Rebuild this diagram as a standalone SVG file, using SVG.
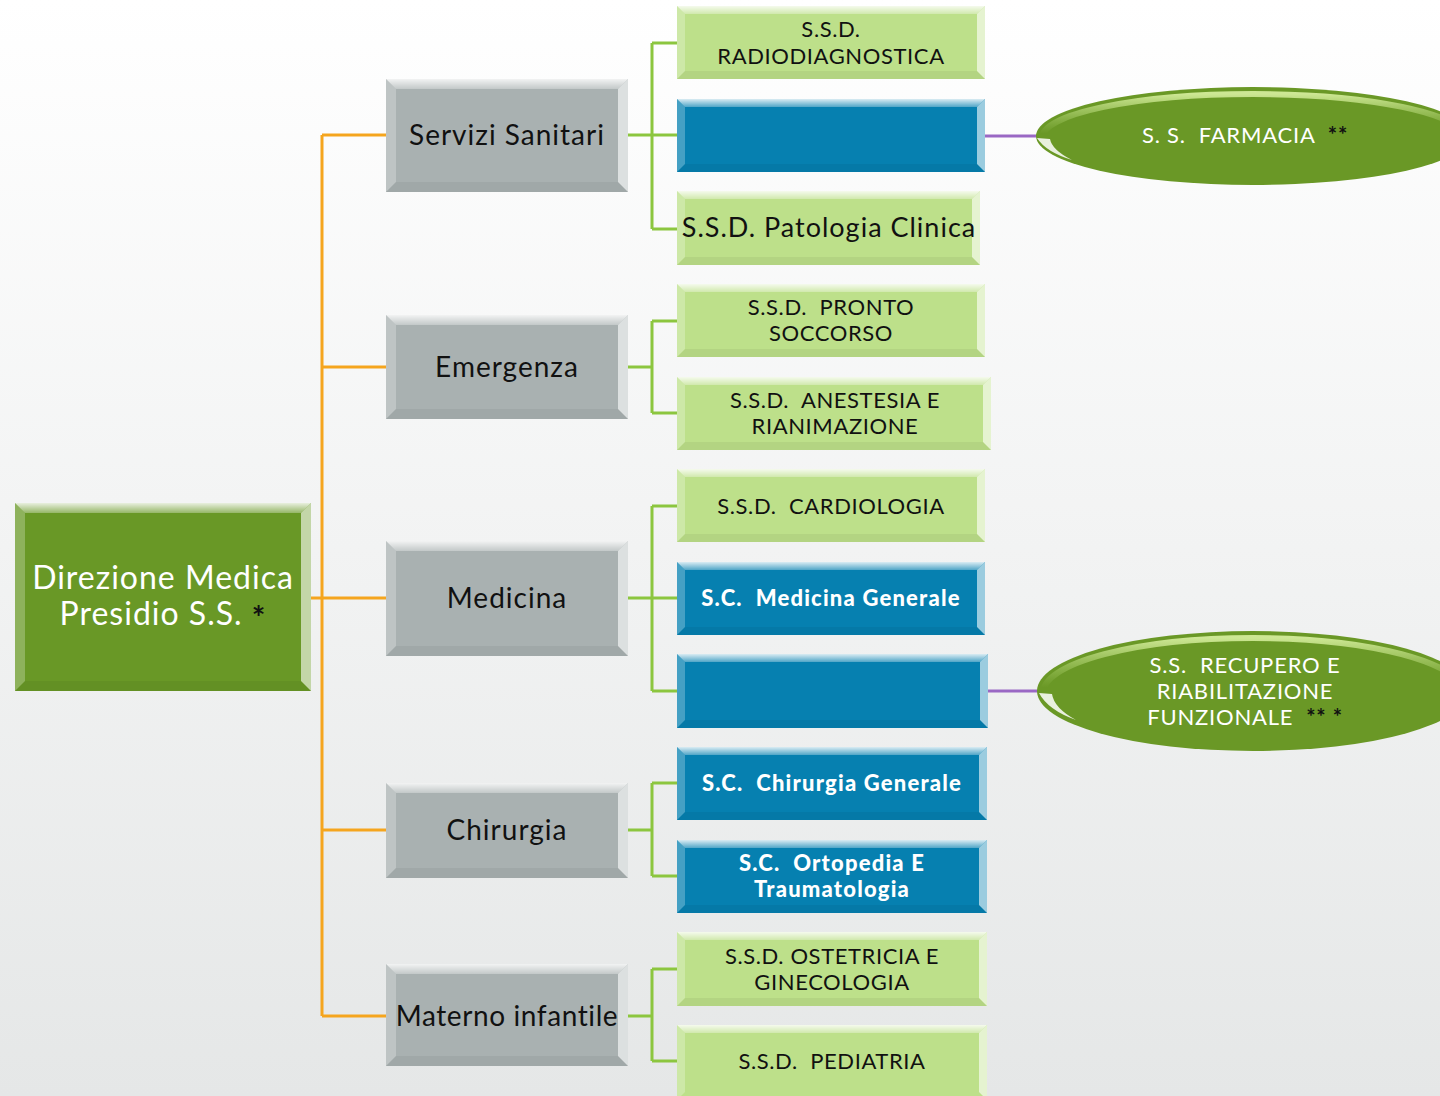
<svg xmlns="http://www.w3.org/2000/svg" width="1440" height="1096" viewBox="0 0 1440 1096">
<defs>
<linearGradient id="bg" x1="0" y1="0" x2="0" y2="1"><stop offset="0" stop-color="#ffffff"/><stop offset="1" stop-color="#e5e7e7"/></linearGradient>
<linearGradient id="topHi" x1="0" y1="0" x2="0" y2="1"><stop offset="0" stop-color="#ffffff" stop-opacity="0.85"/><stop offset="1" stop-color="#ffffff" stop-opacity="0.3"/></linearGradient>
<linearGradient id="ellHi" x1="0" y1="0" x2="0" y2="1"><stop offset="0" stop-color="#d8f0a0" stop-opacity="0.9"/><stop offset="0.45" stop-color="#b8dc78" stop-opacity="0"/></linearGradient>
</defs>
<style>
.root{fill:#699826}
.gray{fill:#a9b1b1}
.leaf{fill:#bde08a}
.blue{fill:#0680b0}
.bt{fill:url(#topHi)}
.bl{fill:#ffffff;fill-opacity:.25}
.br{fill:#ffffff;fill-opacity:.6}
.bb{fill:#000000;fill-opacity:.05}
.oc{stroke:#f5a51e;stroke-width:3;fill:none}
.gc{stroke:#8cc63f;stroke-width:3;fill:none}
.pc{stroke:#9a68c4;stroke-width:3;fill:none}
text{font-family:"Century Gothic",Lato,"Noto Sans",sans-serif;text-anchor:middle;white-space:pre}
.tw{fill:#ffffff;font-size:32px;letter-spacing:1px}
.tg{fill:#111111;font-size:28px;letter-spacing:1px}
.tl{fill:#111111;font-size:22px;letter-spacing:0.6px}
.tb{fill:#ffffff;font-size:22px;font-weight:900;letter-spacing:1.2px}
.te{fill:#ffffff;font-size:22px;letter-spacing:0.8px}
.star{fill:#111111;font-weight:bold}
.ell{fill:#6a9826}
</style>
<rect x="0" y="0" width="1440" height="1096" fill="url(#bg)"/>

<g id="connectors">
<path class="oc" d="M311 598H386M322 135V1016M322 135H386M322 367H386M322 830H386M322 1016H386"/>
<path class="gc" d="M628 135H677M652 43V229M652 43H677M652 229H677"/>
<path class="gc" d="M628 367H652M652 321V413M652 321H677M652 413H677"/>
<path class="gc" d="M628 598H677M652 506V691M652 506H677M652 691H677"/>
<path class="gc" d="M628 830H652M652 783V876M652 783H677M652 876H677"/>
<path class="gc" d="M628 1016H652M652 969V1061M652 969H677M652 1061H677"/>
<path class="pc" d="M985 136H1040M988 691H1040"/>
</g>

<g id="root">
<rect class="root" x="15" y="503" width="296" height="188"/>
<path class="bt" d="M15 503h296l-10 10h-276z"/>
<path class="bl" d="M15 503l10 10v168l-10 10z"/>
<path class="br" d="M311 503v188l-10 -10v-168z"/>
<path class="bb" d="M15 691h296l-10 -10h-276z"/>
<text class="tw" x="163" y="589">Direzione Medica</text>
<text class="tw" x="163" y="625">Presidio S.S. <tspan class="star" dy="5">*</tspan></text>
</g>

<g id="servizi">
<rect class="gray" x="386" y="79" width="242" height="113"/>
<path class="bt" d="M386 79h242l-10 10h-222z"/>
<path class="bl" d="M386 79l10 10v93l-10 10z"/>
<path class="br" d="M628 79v113l-10 -10v-93z"/>
<path class="bb" d="M386 192h242l-10 -10h-222z"/>
<text class="tg" x="507" y="145">Servizi Sanitari</text>
</g>
<g id="emergenza">
<rect class="gray" x="386" y="315" width="242" height="104"/>
<path class="bt" d="M386 315h242l-10 10h-222z"/>
<path class="bl" d="M386 315l10 10v84l-10 10z"/>
<path class="br" d="M628 315v104l-10 -10v-84z"/>
<path class="bb" d="M386 419h242l-10 -10h-222z"/>
<text class="tg" x="507" y="377">Emergenza</text>
</g>
<g id="medicina">
<rect class="gray" x="386" y="541" width="242" height="115"/>
<path class="bt" d="M386 541h242l-10 10h-222z"/>
<path class="bl" d="M386 541l10 10v95l-10 10z"/>
<path class="br" d="M628 541v115l-10 -10v-95z"/>
<path class="bb" d="M386 656h242l-10 -10h-222z"/>
<text class="tg" x="507" y="608">Medicina</text>
</g>
<g id="chirurgia">
<rect class="gray" x="386" y="783" width="242" height="95"/>
<path class="bt" d="M386 783h242l-10 10h-222z"/>
<path class="bl" d="M386 783l10 10v75l-10 10z"/>
<path class="br" d="M628 783v95l-10 -10v-75z"/>
<path class="bb" d="M386 878h242l-10 -10h-222z"/>
<text class="tg" x="507" y="840">Chirurgia</text>
</g>
<g id="materno">
<rect class="gray" x="386" y="964" width="242" height="102"/>
<path class="bt" d="M386 964h242l-10 10h-222z"/>
<path class="bl" d="M386 964l10 10v82l-10 10z"/>
<path class="br" d="M628 964v102l-10 -10v-82z"/>
<path class="bb" d="M386 1066h242l-10 -10h-222z"/>
<text class="tg" x="507" y="1026" style="letter-spacing:0.6px">Materno infantile</text>
</g>

<g id="radiodiagnostica">
<rect class="leaf" x="677" y="6" width="308" height="73"/>
<path class="bt" d="M677 6h308l-8 8h-292z"/>
<path class="bl" d="M677 6l8 8v57l-8 8z"/>
<path class="br" d="M985 6v73l-8 -8v-57z"/>
<path class="bb" d="M677 79h308l-8 -8h-292z"/>
<text class="tl" x="831" y="37">S.S.D.</text>
<text class="tl" x="831" y="64">RADIODIAGNOSTICA</text>
</g>
<g id="blue-servizi">
<rect class="blue" x="677" y="99" width="308" height="73"/>
<path class="bt" d="M677 99h308l-8 8h-292z"/>
<path class="bl" d="M677 99l8 8v57l-8 8z"/>
<path class="br" d="M985 99v73l-8 -8v-57z"/>
<path class="bb" d="M677 172h308l-8 -8h-292z"/>
</g>
<g id="patologia">
<rect class="leaf" x="677" y="191" width="303" height="74"/>
<path class="bt" d="M677 191h303l-8 8h-287z"/>
<path class="bl" d="M677 191l8 8v58l-8 8z"/>
<path class="br" d="M980 191v74l-8 -8v-58z"/>
<path class="bb" d="M677 265h303l-8 -8h-287z"/>
<text class="tl" x="829" y="237" style="font-size:27px;letter-spacing:1px">S.S.D. Patologia Clinica</text>
</g>
<g id="farmacia">
<ellipse class="ell" cx="1253" cy="136" rx="217" ry="49"/>
<ellipse cx="1253" cy="138" rx="211" ry="44" fill="none" stroke="url(#ellHi)" stroke-width="6"/>
<path d="M1037 138Q1046 152 1072 160Q1052 150 1050 139Z" fill="#ffffff" fill-opacity="0.85"/>
<text class="te" x="1245" y="143">S. S.  FARMACIA  <tspan class="star">**</tspan></text>
</g>

<g id="pronto">
<rect class="leaf" x="677" y="284" width="308" height="73"/>
<path class="bt" d="M677 284h308l-8 8h-292z"/>
<path class="bl" d="M677 284l8 8v57l-8 8z"/>
<path class="br" d="M985 284v73l-8 -8v-57z"/>
<path class="bb" d="M677 357h308l-8 -8h-292z"/>
<text class="tl" x="831" y="315">S.S.D.  PRONTO</text>
<text class="tl" x="831" y="341">SOCCORSO</text>
</g>
<g id="anestesia">
<rect class="leaf" x="677" y="377" width="314" height="73"/>
<path class="bt" d="M677 377h314l-8 8h-298z"/>
<path class="bl" d="M677 377l8 8v57l-8 8z"/>
<path class="br" d="M991 377v73l-8 -8v-57z"/>
<path class="bb" d="M677 450h314l-8 -8h-298z"/>
<text class="tl" x="835" y="408">S.S.D.  ANESTESIA E</text>
<text class="tl" x="835" y="434">RIANIMAZIONE</text>
</g>

<g id="cardiologia">
<rect class="leaf" x="677" y="469" width="308" height="73"/>
<path class="bt" d="M677 469h308l-8 8h-292z"/>
<path class="bl" d="M677 469l8 8v57l-8 8z"/>
<path class="br" d="M985 469v73l-8 -8v-57z"/>
<path class="bb" d="M677 542h308l-8 -8h-292z"/>
<text class="tl" x="831" y="514">S.S.D.  CARDIOLOGIA</text>
</g>
<g id="medicina-generale">
<rect class="blue" x="677" y="562" width="308" height="73"/>
<path class="bt" d="M677 562h308l-8 8h-292z"/>
<path class="bl" d="M677 562l8 8v57l-8 8z"/>
<path class="br" d="M985 562v73l-8 -8v-57z"/>
<path class="bb" d="M677 635h308l-8 -8h-292z"/>
<text class="tb" x="831" y="606">S.C.  Medicina Generale</text>
</g>
<g id="blue-medicina">
<rect class="blue" x="677" y="654" width="311" height="74"/>
<path class="bt" d="M677 654h311l-8 8h-295z"/>
<path class="bl" d="M677 654l8 8v58l-8 8z"/>
<path class="br" d="M988 654v74l-8 -8v-58z"/>
<path class="bb" d="M677 728h311l-8 -8h-295z"/>
</g>
<g id="recupero">
<ellipse class="ell" cx="1253" cy="691" rx="216" ry="60"/>
<ellipse cx="1253" cy="693" rx="210" ry="55" fill="none" stroke="url(#ellHi)" stroke-width="6"/>
<path d="M1039 693Q1048 710 1076 720Q1054 708 1052 694Z" fill="#ffffff" fill-opacity="0.85"/>
<text class="te" x="1245" y="673">S.S.  RECUPERO E</text>
<text class="te" x="1245" y="699">RIABILITAZIONE</text>
<text class="te" x="1245" y="725">FUNZIONALE  <tspan class="star">** *</tspan></text>
</g>

<g id="chirurgia-generale">
<rect class="blue" x="677" y="747" width="310" height="73"/>
<path class="bt" d="M677 747h310l-8 8h-294z"/>
<path class="bl" d="M677 747l8 8v57l-8 8z"/>
<path class="br" d="M987 747v73l-8 -8v-57z"/>
<path class="bb" d="M677 820h310l-8 -8h-294z"/>
<text class="tb" x="832" y="791">S.C.  Chirurgia Generale</text>
</g>
<g id="ortopedia">
<rect class="blue" x="677" y="840" width="310" height="73"/>
<path class="bt" d="M677 840h310l-8 8h-294z"/>
<path class="bl" d="M677 840l8 8v57l-8 8z"/>
<path class="br" d="M987 840v73l-8 -8v-57z"/>
<path class="bb" d="M677 913h310l-8 -8h-294z"/>
<text class="tb" x="832" y="871">S.C.  Ortopedia E</text>
<text class="tb" x="832" y="897">Traumatologia</text>
</g>

<g id="ostetricia">
<rect class="leaf" x="677" y="932" width="310" height="74"/>
<path class="bt" d="M677 932h310l-8 8h-294z"/>
<path class="bl" d="M677 932l8 8v58l-8 8z"/>
<path class="br" d="M987 932v74l-8 -8v-58z"/>
<path class="bb" d="M677 1006h310l-8 -8h-294z"/>
<text class="tl" x="832" y="964">S.S.D. OSTETRICIA E</text>
<text class="tl" x="832" y="990">GINECOLOGIA</text>
</g>
<g id="pediatria">
<rect class="leaf" x="677" y="1025" width="310" height="75"/>
<path class="bt" d="M677 1025h310l-8 8h-294z"/>
<path class="bl" d="M677 1025l8 8v59l-8 8z"/>
<path class="br" d="M987 1025v75l-8 -8v-59z"/>
<text class="tl" x="832" y="1069">S.S.D.  PEDIATRIA</text>
</g>
</svg>
